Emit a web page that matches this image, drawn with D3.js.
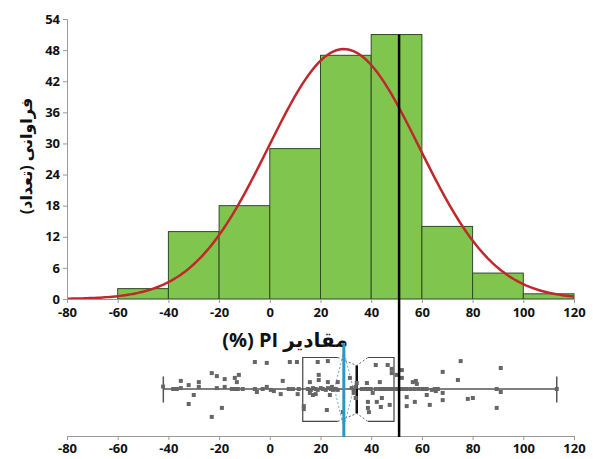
<!DOCTYPE html>
<meta charset="utf-8">
<style>
body { margin: 0; background: #fff; }
svg text { font-family: "Open Sans", "DejaVu Sans", sans-serif; font-weight: bold; fill: #111; }
.axis path, .axis line { stroke: #9a9a9a; }
</style>
<svg width="593" height="459"></svg>
<script src="https://d3js.org/d3.v7.min.js"></script>
<script>

// histogram bins (lower edge, count)
var binEdges = [-60, -40, -20, 0, 20, 40, 60, 80, 100];
var binCounts = [2, 13, 18, 29, 47, 51, 14, 5, 1];
var binWidth = 20;

// fitted normal
var fitMean = 29.2, fitSd = 29.8;

var xTicks = [-80, -60, -40, -20, 0, 20, 40, 60, 80, 100, 120];
var yTicks = [0, 6, 12, 18, 24, 30, 36, 42, 48, 54];

// reference line, box plot stats
var refLine = 51;
var whiskerLo = -42, whiskerHi = 113.2;
var q1 = 13, q3 = 49, median = 34.3;
var notchLo = 26.8, notchHi = 38.7;
var meanCI = [25.5, 33];

// individual PI values with vertical jitter
var piValues = [-42.1,-38.1,-36.7,-35.1,-35.1,-32,-32,-30,-28,-28,-22.9,-22.9,-20.9,-20.9,-18.9,-17.8,-17.8,-15,-13.8,-12.6,-10.7,-13.8,-13,-12.2,-5.9,-5.9,-5.1,-1.2,-2.8,-1.2,0.4,1.6,4.3,5.1,7.5,9.1,7.9,10.7,11,11.4,
  13.4,13.4,15.8,15,16.2,17,18.1,18.9,20.1,20.9,22.1,22.9,24.1,24.9,26,15.8,17,18.1,18.9,19.3,19.3,22.5,22.9,22.9,23.7,24.5,26.8,26.8,28.8,31.6,32.3,33.1,33.9,33.1,33.9,34.3,36.3,37.5,38.7,39.8,38.3,38.7,38.7,39.1,40.6,41.8,42.2,43.4,44.6,45.8,47.3,48.5,43.4,43.8,46.5,48.1,48.1,47.3,44.2,41.8,
  50.1,50.9,52.1,52.5,50.1,52.1,52.1,54,55.6,57.2,58.8,60.4,61.9,63.9,65.1,66.3,54,54,56.4,57.6,58,57.2,61.9,63.1,65.5,68.2,68.2,68.2,74.2,75.3,78.1,80.1,89.5,91.1,89.5,91.1,113.2];
var piJitter = [0.08,0,0,0.03,0.27,0.13,-0.5,-0.2,0.23,0.07,0.53,-0.93,0.43,0.03,-0.63,0.33,0.07,0,0,0,0,0.37,0.23,0.47,0.9,0,-0.1,0.87,0,0.07,-0.03,-0.07,-0.17,0.27,0,0,0.9,0.9,-0.17,0,
  -0.57,-0.67,0.23,0,-0.03,0.03,0,-0.03,0.03,0,-0.03,0.03,0,-0.03,0,-0.13,-0.2,-0.17,0.9,0.47,0.3,-0.7,0.93,0.23,-0.2,0.07,-0.03,0.23,-0.77,0.37,0.03,-0.03,0.07,-0.13,-0.3,0.2,0,0,0,0,0.2,-0.43,-0.63,-0.77,-0.13,0.8,-0.43,0,0,0,0,0,0.23,-0.6,0.8,0.67,0.53,-0.53,-0.3,0,
  0,0,0,0,0.47,0.37,0.63,0,0,0,0,0,0,-0.03,0,0,-0.27,-0.57,0.23,0.27,0.17,-0.43,-0.2,-0.53,-0.07,0.57,-0.13,-0.37,0.3,0.93,-0.33,-0.3,0,-0.1,-0.63,0.7,0];

var svg = d3.select("svg");

var x = d3.scaleLinear().domain([-80, 120]).range([67, 574]);
var y = d3.scaleLinear().domain([0, 54]).range([299, 19]);
var yb = d3.scaleLinear().domain([-1, 1]).range([419, 359]);
var plain = function(d) { return String(d); };

// bars
svg.append("g").selectAll("rect")
  .data(binEdges)
  .enter().append("rect")
  .attr("x", function(d) { return x(d); })
  .attr("width", function(d) { return x(d + binWidth) - x(d); })
  .attr("y", function(d, i) { return y(binCounts[i]); })
  .attr("height", function(d, i) { return y(0) - y(binCounts[i]); })
  .attr("fill", "#80c64e")
  .attr("stroke", "#2f4a24")
  .attr("stroke-width", 1);

// normal curve
var total = d3.sum(binCounts);
var curvePts = d3.range(-80, 120.5, 1).map(function(v) {
  var z = (v - fitMean) / fitSd;
  return [v, total * binWidth / (fitSd * Math.sqrt(2 * Math.PI)) * Math.exp(-0.5 * z * z)];
});
svg.append("path")
  .datum(curvePts)
  .attr("fill", "none")
  .attr("stroke", "#c0282c")
  .attr("stroke-width", 2.5)
  .attr("d", d3.line().x(function(d) { return x(d[0]); }).y(function(d) { return y(d[1]); }));

// axes
var yAxis = svg.append("g").attr("class", "axis")
  .attr("transform", "translate(67,0)")
  .call(d3.axisLeft(y).tickValues(yTicks).tickFormat(plain).tickSize(4).tickPadding(3));
yAxis.selectAll("text").style("font-size", "13px");

var xAxisTop = svg.append("g").attr("class", "axis")
  .attr("transform", "translate(0,299)")
  .call(d3.axisBottom(x).tickValues(xTicks).tickFormat(plain).tickSize(4).tickPadding(5));
xAxisTop.selectAll("text").style("font-size", "13px");

var xAxisBot = svg.append("g").attr("class", "axis")
  .attr("transform", "translate(0,436)")
  .call(d3.axisBottom(x).tickValues(xTicks).tickFormat(plain).tickSize(4).tickPadding(4));
xAxisBot.selectAll("text").style("font-size", "13px");

// titles
svg.append("text")
  .attr("x", 285).attr("y", 347)
  .attr("text-anchor", "middle")
  .attr("direction", "rtl")
  .style("font-size", "20px")
  .text("مقادیر PI (%)");

svg.append("text")
  .attr("transform", "translate(32,156) rotate(-90)")
  .attr("text-anchor", "middle")
  .attr("direction", "rtl")
  .style("font-size", "16px")
  .text("فراوانی (تعداد)");

// box plot
var bp = svg.append("g");
bp.append("line")
  .attr("x1", x(whiskerLo)).attr("x2", x(whiskerHi))
  .attr("y1", yb(0)).attr("y2", yb(0))
  .attr("stroke", "#555").attr("stroke-width", 1.5);
[whiskerLo, whiskerHi].forEach(function(w) {
  bp.append("line")
    .attr("x1", x(w)).attr("x2", x(w))
    .attr("y1", yb(0.42)).attr("y2", yb(-0.45))
    .attr("stroke", "#555").attr("stroke-width", 1.5);
});

var bTop = yb(1.05), bBot = yb(-1.08), nIn = 8;
var solid = [
  [[x(notchLo), bTop], [x(q1), bTop], [x(q1), bBot], [x(notchLo), bBot]],
  [[x(notchHi), bTop], [x(q3), bTop], [x(q3), bBot], [x(notchHi), bBot]]
];
var dotted = [
  [[x(notchLo), bTop], [x(median), bTop + nIn], [x(notchHi), bTop]],
  [[x(notchLo), bBot], [x(median), bBot - nIn], [x(notchHi), bBot]]
];
var ln = d3.line();
bp.selectAll(".solid").data(solid).enter().append("path")
  .attr("d", ln).attr("fill", "none").attr("stroke", "#444").attr("stroke-width", 1.2);
bp.selectAll(".dotted").data(dotted).enter().append("path")
  .attr("d", ln).attr("fill", "none").attr("stroke", "#666").attr("stroke-width", 1)
  .attr("stroke-dasharray", "2,2");

// mean diamond
bp.append("path")
  .attr("d", ln([[x(fitMean), bTop - 6], [x(meanCI[0]), yb(0)], [x(fitMean), bBot + 6], [x(meanCI[1]), yb(0)], [x(fitMean), bTop - 6]]))
  .attr("fill", "none").attr("stroke", "#5ab0d0").attr("stroke-width", 1)
  .attr("stroke-dasharray", "2,2");

// points
svg.append("g").selectAll("rect")
  .data(piValues)
  .enter().append("rect")
  .attr("x", function(d) { return x(d) - 2; })
  .attr("y", function(d, i) { return yb(piJitter[i]) - 2; })
  .attr("width", 4).attr("height", 4)
  .attr("fill", "#666");

// median line
bp.append("line")
  .attr("x1", x(median)).attr("x2", x(median))
  .attr("y1", bTop + nIn).attr("y2", bBot - nIn)
  .attr("stroke", "#111").attr("stroke-width", 2.5);

// mean line
svg.append("line")
  .attr("x1", x(fitMean)).attr("x2", x(fitMean))
  .attr("y1", 343).attr("y2", 437)
  .attr("stroke", "#2a98c4").attr("stroke-width", 3);

// reference line
svg.append("line")
  .attr("x1", x(refLine)).attr("x2", x(refLine))
  .attr("y1", y(51)).attr("y2", 437)
  .attr("stroke", "#000").attr("stroke-width", 2.5);

</script>
